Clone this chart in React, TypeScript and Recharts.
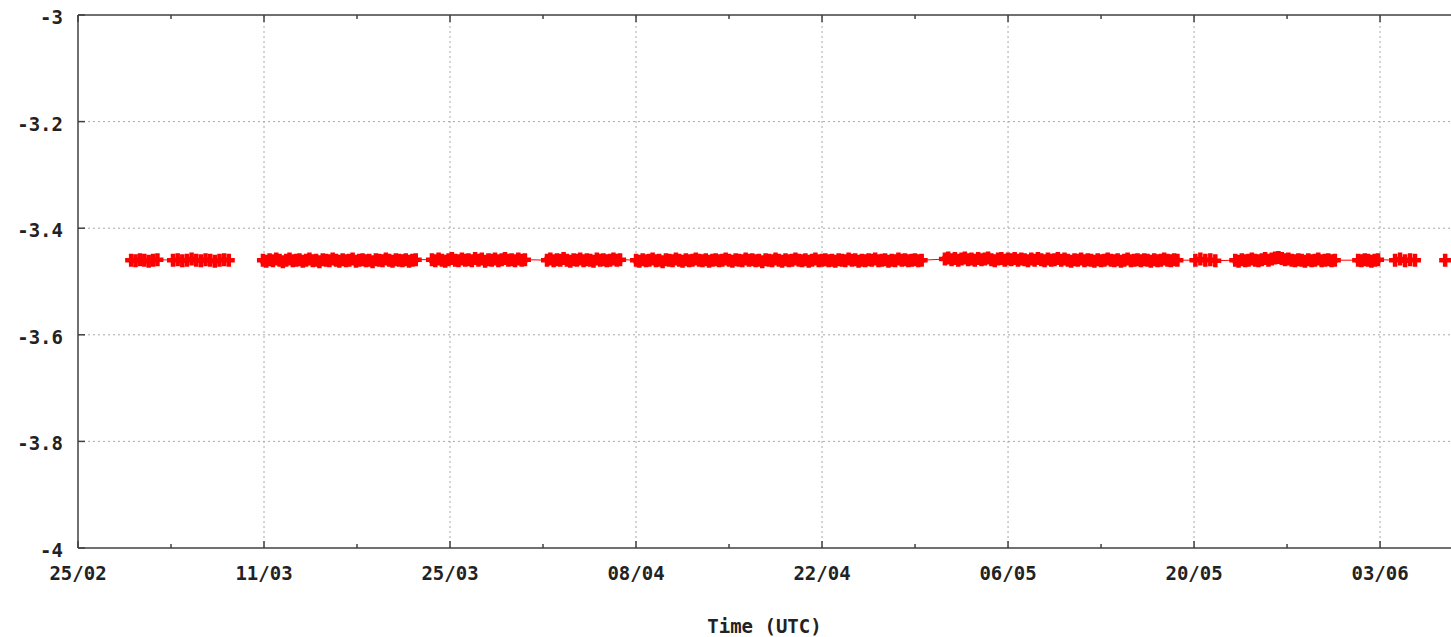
import { LineChart, Line, XAxis, YAxis, ReferenceLine } from "recharts";

const FONT = '"DejaVu Sans Mono", monospace';
const AXIS = "#404040";
const GRID = "#a8a8a8";
const RED = "#ff0000";

// day 0 = 25/02; a tick every 7 days, a label on every other one
const xTicks = [0, 7, 14, 21, 28, 35, 42, 49, 56, 63, 70, 77, 84, 91, 98];
const xLabels = ["25/02", "11/03", "25/03", "08/04", "22/04", "06/05", "20/05", "03/06"];
const yTicks = [-4, -3.8, -3.6, -3.4, -3.2, -3];
const xEnd = 103.34;

// runs of samples: start day, sampling step (days), break in the line before the run
const runStart = [4.0, 7.15, 13.92, 26.64, 35.3, 42.0, 65.25, 84.1, 87.1, 96.35, 99.13, 102.9];
const runStep = [0.33, 0.35, 0.25, 0.25, 0.25, 0.25, 0.25, 0.375, 0.25, 0.25, 0.375, 0];
const runBreak = [false, false, true, false, false, false, false, false, false, false, false, true];

const run01 = [-3.46, -3.461, -3.459, -3.46, -3.462, -3.46, -3.459];
const run02 = [-3.46, -3.459, -3.461, -3.46, -3.458, -3.46, -3.461, -3.459, -3.46, -3.462, -3.46, -3.459, -3.46];
const run03 = [
  -3.46, -3.462, -3.459, -3.461, -3.458, -3.46, -3.463, -3.46, -3.458, -3.461, -3.46, -3.459,
  -3.462, -3.46, -3.458, -3.461, -3.46, -3.463, -3.459, -3.46, -3.461, -3.458, -3.46, -3.462,
  -3.459, -3.461, -3.46, -3.458, -3.462, -3.46, -3.459, -3.461, -3.46, -3.463, -3.459, -3.46,
  -3.461, -3.458, -3.46, -3.462, -3.459, -3.46, -3.461, -3.459, -3.462, -3.46, -3.459,
];
const run04 = [
  -3.459, -3.461, -3.458, -3.46, -3.462, -3.459, -3.457, -3.46, -3.461, -3.458, -3.46, -3.459,
  -3.461, -3.457, -3.46, -3.458, -3.462, -3.459, -3.46, -3.458, -3.461, -3.459, -3.457, -3.46,
  -3.459, -3.461, -3.458, -3.46, -3.459,
];
const run05 = [
  -3.46, -3.458, -3.461, -3.459, -3.46, -3.457, -3.46, -3.462, -3.459, -3.46, -3.458, -3.461,
  -3.459, -3.46, -3.462, -3.458, -3.46, -3.459, -3.461, -3.46, -3.458, -3.46, -3.459,
];
const run06 = [
  -3.46, -3.462, -3.459, -3.461, -3.46, -3.458, -3.461, -3.46, -3.463, -3.459, -3.46, -3.461,
  -3.458, -3.46, -3.462, -3.459, -3.461, -3.46, -3.458, -3.46, -3.461, -3.459, -3.462, -3.46,
  -3.459, -3.461, -3.46, -3.458, -3.46, -3.462, -3.459, -3.46, -3.461, -3.458, -3.46, -3.459,
  -3.461, -3.46, -3.463, -3.459, -3.46, -3.461, -3.458, -3.46, -3.462, -3.459, -3.461, -3.46,
  -3.458, -3.46, -3.461, -3.459, -3.462, -3.46, -3.458, -3.461, -3.46, -3.459, -3.461, -3.46,
  -3.462, -3.459, -3.46, -3.461, -3.458, -3.46, -3.459, -3.462, -3.46, -3.461, -3.459, -3.46,
  -3.458, -3.461, -3.46, -3.459, -3.462, -3.46, -3.461, -3.458, -3.46, -3.459, -3.461, -3.46,
  -3.459, -3.461, -3.46,
];
const run07 = [
  -3.458, -3.456, -3.459, -3.457, -3.46, -3.458, -3.456, -3.459, -3.458, -3.46, -3.457, -3.459,
  -3.458, -3.456, -3.459, -3.461, -3.458, -3.457, -3.46, -3.458, -3.459, -3.457, -3.46, -3.458,
  -3.459, -3.461, -3.458, -3.46, -3.457, -3.459, -3.461, -3.458, -3.46, -3.459, -3.457, -3.46,
  -3.458, -3.46, -3.462, -3.459, -3.46, -3.458, -3.461, -3.459, -3.46, -3.462, -3.459, -3.461,
  -3.46, -3.458, -3.46, -3.461, -3.459, -3.462, -3.46, -3.458, -3.461, -3.46, -3.459, -3.461,
  -3.459, -3.46, -3.462, -3.459, -3.461, -3.46, -3.458, -3.46, -3.461, -3.459, -3.46,
];
const run08 = [-3.46, -3.458, -3.46, -3.459, -3.461];
const run09 = [
  -3.46, -3.462, -3.459, -3.461, -3.46, -3.458, -3.46, -3.461, -3.459, -3.457, -3.46, -3.458,
  -3.456, -3.455, -3.457, -3.459, -3.458, -3.46, -3.461, -3.459, -3.46, -3.462, -3.459, -3.461,
  -3.46, -3.458, -3.461, -3.46, -3.459, -3.461, -3.46,
];
const run10 = [-3.46, -3.461, -3.459, -3.46, -3.462, -3.46, -3.459];
const run11 = [-3.46, -3.458, -3.461, -3.459, -3.46];
const run12 = [-3.46];

const runValues = [run01, run02, run03, run04, run05, run06, run07, run08, run09, run10, run11, run12];

type Row = { t: number; v: number | null };

const data: Row[] = [];
runValues.forEach((vals, r) => {
  if (runBreak[r] && data.length) {
    const prev = data[data.length - 1].t;
    data.push({ t: (prev + runStart[r]) / 2, v: null });
  }
  vals.forEach((v, i) => data.push({ t: runStart[r] + i * runStep[r], v }));
});

const textStyle = { fontFamily: FONT, fontSize: 19, fontWeight: "bold" as const, fill: "#222" };

const BottomTick = (props: any) => {
  const { x, y, payload } = props;
  const major = payload.value % 14 === 0;
  return (
    <g>
      <line x1={x} x2={x} y1={y} y2={y - (major ? 7 : 4)} stroke={AXIS} strokeWidth={1.5} />
      {major && (
        <text x={x} y={y + 32} textAnchor="middle" {...textStyle}>
          {xLabels[payload.value / 14]}
        </text>
      )}
    </g>
  );
};

const TopTick = (props: any) => {
  const { x, y, payload } = props;
  const major = payload.value % 14 === 0;
  return <line x1={x} x2={x} y1={y} y2={y + (major ? 7 : 4)} stroke={AXIS} strokeWidth={1.5} />;
};

const LeftTick = (props: any) => {
  const { x, y, payload } = props;
  return (
    <g>
      <line x1={x} x2={x + 7} y1={y} y2={y} stroke={AXIS} strokeWidth={1.5} />
      <text x={x - 15} y={y + 9} textAnchor="end" {...textStyle}>
        {String(payload.value)}
      </text>
    </g>
  );
};

const PlusDot = (props: any) => {
  const { cx, cy, index } = props;
  if (cx == null || cy == null || props.value == null) return <g key={index} />;
  return (
    <path
      key={index}
      d={`M${cx - 6},${cy}h12M${cx},${cy - 6.5}v13`}
      stroke={RED}
      strokeWidth={4.5}
      fill="none"
    />
  );
};

export default function App() {
  return (
    <div style={{ position: "absolute", left: 0, top: 0, width: 1451, height: 637, background: "#fff" }}>
      <LineChart width={1451} height={637} data={data} margin={{ top: 0, right: 0, bottom: 0, left: 0 }}>
        <XAxis
          dataKey="t"
          type="number"
          domain={[0, xEnd]}
          allowDataOverflow
          ticks={xTicks}
          interval={0}
          height={89}
          tickSize={0}
          tickMargin={0}
          tickLine={false}
          tick={BottomTick}
          axisLine={{ stroke: AXIS, strokeWidth: 1.5 }}
          label={{ value: "Time (UTC)", position: "insideBottom", offset: 4, ...textStyle }}
        />
        <XAxis
          xAxisId="top"
          orientation="top"
          dataKey="t"
          type="number"
          domain={[0, xEnd]}
          allowDataOverflow
          ticks={xTicks}
          interval={0}
          height={15}
          tickSize={0}
          tickMargin={0}
          tickLine={false}
          tick={TopTick}
          axisLine={{ stroke: AXIS, strokeWidth: 1.5 }}
        />
        <YAxis
          type="number"
          domain={[-4, -3]}
          ticks={yTicks}
          interval={0}
          width={78}
          tickSize={0}
          tickMargin={0}
          tickLine={false}
          tick={LeftTick}
          axisLine={{ stroke: AXIS, strokeWidth: 1.5 }}
        />
        {xTicks
          .filter((t) => t % 14 === 0 && t > 0)
          .map((t) => (
            <ReferenceLine key={"gx" + t} x={t} stroke={GRID} strokeDasharray="2 3" />
          ))}
        {yTicks
          .filter((v) => v > -4 && v < -3)
          .map((v) => (
            <ReferenceLine key={"gy" + v} y={v} stroke={GRID} strokeDasharray="2 3" />
          ))}
        <Line
          dataKey="v"
          stroke={RED}
          strokeWidth={1}
          dot={PlusDot}
          activeDot={false}
          connectNulls={false}
          isAnimationActive={false}
        />
      </LineChart>
    </div>
  );
}
